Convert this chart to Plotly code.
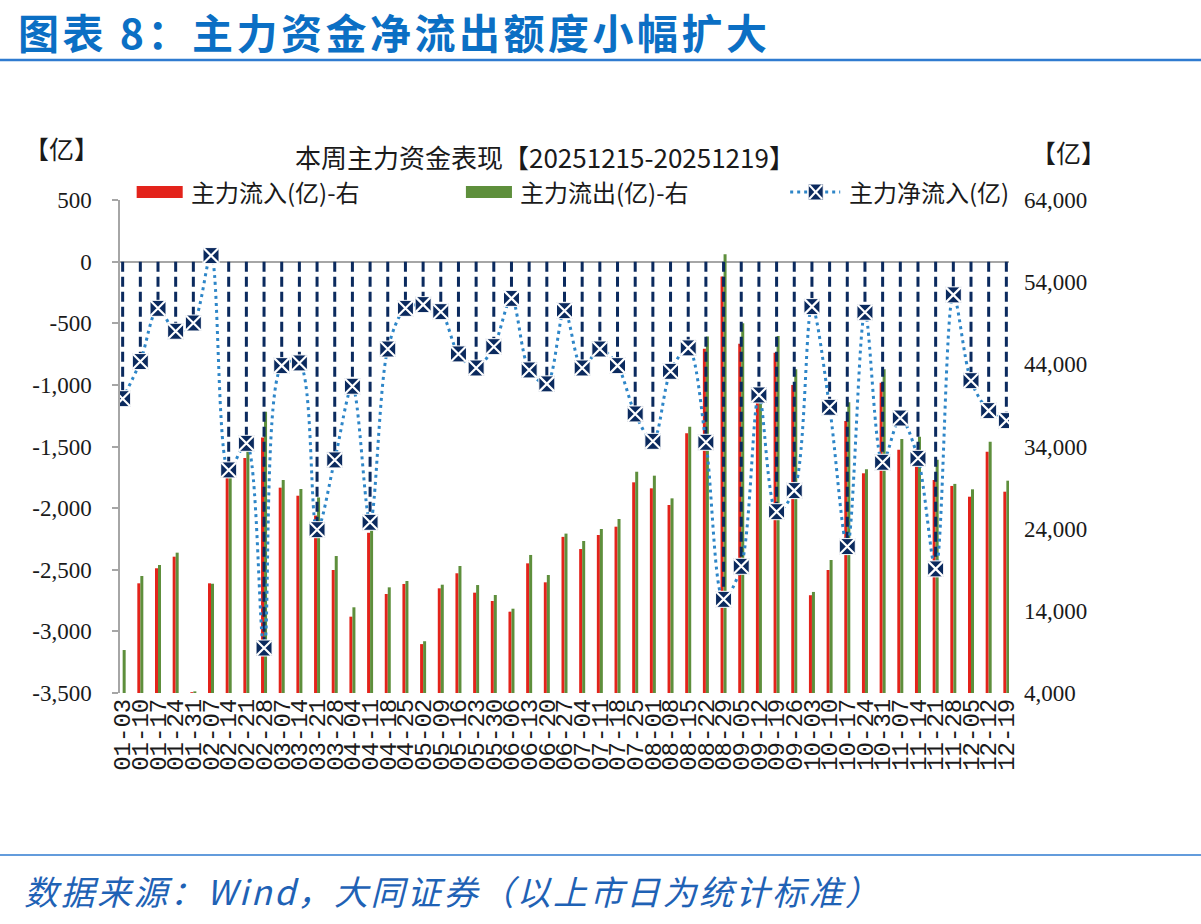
import plotly.graph_objects as go

# ---------------- data ----------------
weeks = ["01-03","01-10","01-17","01-24","01-31","02-07","02-14","02-21","02-28",
         "03-07","03-14","03-21","03-28","04-04","04-11","04-18","04-25",
         "05-02","05-09","05-16","05-23","05-30","06-06","06-13","06-20","06-27",
         "07-04","07-11","07-18","07-25","08-01","08-08","08-15","08-22","08-29",
         "09-05","09-12","09-19","09-26","10-03","10-10","10-17","10-24","10-31",
         "11-07","11-14","11-21","11-28","12-05","12-12","12-19"]

# 主力净流入(亿) - left axis
net_flow = [-1112, -811, -379, -565, -498, 49, -1690, -1474, -3135, -844, -822,
            -2175, -1609, -1011, -2115, -709, -379, -349, -406, -749, -863, -690,
            -298, -879, -992, -398, -863, -709, -844, -1236, -1458, -890, -700,
            -1466, -2740, -2472, -1082, -2029, -1858, -365, -1182, -2312, -411,
            -1628, -1269, -1596, -2493, -270, -966, -1209, -1290]

# 主力流入(亿) - right axis
inflow = [4000, 17350, 19180, 20590, 4100, 17350, 30300, 32600, 35100, 28990,
          28010, 25600, 18970, 13290, 23500, 16050, 17270, 9950, 16740, 18570,
          16210, 15200, 13900, 19780, 17470, 23000, 21520, 23230, 24240, 29640,
          28910, 26880, 35600, 45900, 54700, 46500, 39600, 45400, 41480, 15900,
          18970, 37100, 30740, 41770, 33600, 33600, 29920, 29200, 27890, 33370,
          28500]

# 主力流出(亿) - right axis
outflow = [9230, 18240, 19580, 21080, 4200, 17300, 31000, 34100, 38230, 29920,
           28830, 27800, 20670, 14430, 25600, 16860, 17630, 10300, 17180, 19460,
           17140, 15930, 14260, 20800, 18360, 23400, 22500, 23960, 25180, 30930,
           30450, 27690, 36410, 47400, 57400, 49000, 40700, 47450, 43400, 16300,
           20190, 39400, 31220, 43390, 34900, 35200, 32400, 29450, 28790, 34590,
           29840]

left_ticks = [500, 0, -500, -1000, -1500, -2000, -2500, -3000, -3500]
left_labels = ["500", "0", "-500", "-1,000", "-1,500", "-2,000", "-2,500", "-3,000", "-3,500"]
right_ticks = [64000, 54000, 44000, 34000, 24000, 14000, 4000]
right_labels = ["64,000", "54,000", "44,000", "34,000", "24,000", "14,000", "4,000"]

# ---------------- style ----------------
W, H = 1201, 924
ML, MR, MT, MB = 120.35, 192.35, 200, 231
PW = W - ML - MR
PH = H - MT - MB

RED = "#E3231B"
GREEN = "#5E8F3C"
NAVY = "#0B2A5E"
DOT_BLUE = "#2E86C8"
HEAD_BLUE = "#0B6FC4"
CJK = "Noto Sans CJK SC"
SERIF = "Liberation Serif, Noto Sans CJK SC"


def px_x(px):
    return (px - ML) / PW


def px_y(py):
    return (H - MB - py) / PH


def spaced(t, sp):
    return '<span style="letter-spacing:%spx">%s</span>' % (sp, t)


fig = go.Figure()

fig.add_trace(go.Bar(x=weeks, y=inflow, name="主力流入(亿)-右", marker_color=RED,
                     marker_line_width=0, yaxis="y", showlegend=False))
fig.add_trace(go.Bar(x=weeks, y=outflow, name="主力流出(亿)-右", marker_color=GREEN,
                     marker_line_width=0, yaxis="y", showlegend=False))

# dashed drop lines from 0 to each net-flow value
drop_x, drop_y = [], []
for w, v in zip(weeks, net_flow):
    drop_x += [w, w, None]
    drop_y += [0, v, None]
fig.add_trace(go.Scatter(x=drop_x, y=drop_y, mode="lines", yaxis="y2",
                         line=dict(color=NAVY, width=3, dash="10px,5px"),
                         hoverinfo="skip", showlegend=False))

fig.add_trace(go.Scatter(x=weeks, y=net_flow, mode="lines", yaxis="y2",
                         name="主力净流入(亿)",
                         line=dict(color=DOT_BLUE, width=3, dash="3px,4px",
                                   shape="spline", smoothing=0.9),
                         showlegend=False))
fig.add_trace(go.Scatter(x=weeks, y=net_flow, mode="markers", yaxis="y2",
                         marker=dict(symbol="square", size=16, color=NAVY,
                                     line=dict(color="white", width=1)),
                         showlegend=False, hoverinfo="skip"))
fig.add_trace(go.Scatter(x=weeks, y=net_flow, mode="markers", yaxis="y2",
                         marker=dict(symbol="x-thin", size=15, color="white",
                                     line=dict(color="white", width=2.2)),
                         showlegend=False, hoverinfo="skip"))

fig.update_layout(
    width=W, height=H,
    margin=dict(l=ML, r=MR, t=MT, b=MB, pad=0),
    paper_bgcolor="white", plot_bgcolor="white",
    barmode="group", bargap=0.66, bargroupgap=0,
    font=dict(family=CJK, color="#1a1a1a"),
    xaxis=dict(type="category", range=[-0.15, 50.15], tickangle=-90,
               tickmode="array", tickvals=weeks, ticktext=weeks,
               tickfont=dict(family="Liberation Mono", size=24, color="#1a1a1a"),
               showline=False, ticks="", showgrid=False, zeroline=False),
    yaxis=dict(side="right", range=[4000, 64000], tickvals=right_ticks,
               ticktext=right_labels, showgrid=False, zeroline=False,
               showline=False, ticks="",
               tickfont=dict(family=SERIF, size=23, color="#1a1a1a"),
               ticklabelstandoff=14),
    yaxis2=dict(side="left", overlaying="y", range=[-3500, 500],
                tickvals=left_ticks, ticktext=left_labels, showgrid=False,
                zeroline=True, zerolinecolor="#A6A6A6", zerolinewidth=1.5,
                showline=True, linecolor="#A6A6A6", linewidth=1.5,
                ticks="outside", ticklen=6, tickcolor="#A6A6A6", tickwidth=1.5,
                tickfont=dict(family=SERIF, size=23, color="#1a1a1a"),
                ticklabelstandoff=16),
)

ann = []
shapes = []

# header
ann.append(dict(text="<b>" + spaced("图表 8：主力资金净流出额度小幅扩大", 3.5) + "</b>",
                x=px_x(16), y=px_y(31), xanchor="left", yanchor="middle",
                font=dict(family=CJK, size=41, color=HEAD_BLUE)))
shapes.append(dict(type="line", xref="paper", yref="paper", x0=px_x(0), x1=px_x(W),
                   y0=px_y(60), y1=px_y(60), line=dict(color="#2F7BD0", width=2.5)))
# footer
shapes.append(dict(type="line", xref="paper", yref="paper", x0=px_x(0), x1=px_x(W),
                   y0=px_y(855), y1=px_y(855), line=dict(color="#2F7BD0", width=1.5)))
ann.append(dict(text=spaced("数据来源：Wind，大同证券（以上市日为统计标准）", 2.5),
                x=px_x(22), y=px_y(890), xanchor="left", yanchor="middle",
                font=dict(family=CJK, size=34, color="#1F62B5", style="italic")))

# chart title and units
ann.append(dict(text="本周主力资金表现【20251215-20251219】", x=px_x(545), y=px_y(156),
                xanchor="center", yanchor="middle",
                font=dict(family=CJK, size=26, color="#1a1a1a")))
ann.append(dict(text="【亿】", x=px_x(62), y=px_y(148), xanchor="center", yanchor="middle",
                font=dict(family=CJK, size=25, color="#1a1a1a")))
ann.append(dict(text="【亿】", x=px_x(1068), y=px_y(152), xanchor="center", yanchor="middle",
                font=dict(family=CJK, size=25, color="#1a1a1a")))

# manual legend
LY = 192
shapes.append(dict(type="rect", xref="paper", yref="paper", x0=px_x(137), x1=px_x(183),
                   y0=px_y(198), y1=px_y(186), fillcolor=RED, line=dict(width=0)))
ann.append(dict(text="主力流入(亿)-右", x=px_x(189), y=px_y(LY), xanchor="left",
                yanchor="middle", font=dict(family=CJK, size=24, color="#1a1a1a")))
shapes.append(dict(type="rect", xref="paper", yref="paper", x0=px_x(466), x1=px_x(512),
                   y0=px_y(198), y1=px_y(186), fillcolor=GREEN, line=dict(width=0)))
ann.append(dict(text="主力流出(亿)-右", x=px_x(518), y=px_y(LY), xanchor="left",
                yanchor="middle", font=dict(family=CJK, size=24, color="#1a1a1a")))
shapes.append(dict(type="line", xref="paper", yref="paper", x0=px_x(790), x1=px_x(840),
                   y0=px_y(LY), y1=px_y(LY),
                   line=dict(color=DOT_BLUE, width=3, dash="3px,4px")))
shapes.append(dict(type="rect", xref="paper", yref="paper", x0=px_x(808), x1=px_x(823),
                   y0=px_y(200), y1=px_y(184), fillcolor=NAVY, line=dict(color="white", width=1)))
shapes.append(dict(type="line", xref="paper", yref="paper", x0=px_x(809), x1=px_x(822),
                   y0=px_y(199), y1=px_y(185), line=dict(color="white", width=2)))
shapes.append(dict(type="line", xref="paper", yref="paper", x0=px_x(809), x1=px_x(822),
                   y0=px_y(185), y1=px_y(199), line=dict(color="white", width=2)))
ann.append(dict(text="主力净流入(亿)", x=px_x(847), y=px_y(LY), xanchor="left",
                yanchor="middle", font=dict(family=CJK, size=24, color="#1a1a1a")))

for a in ann:
    a.setdefault("xref", "paper")
    a.setdefault("yref", "paper")
    a.setdefault("showarrow", False)

fig.update_layout(annotations=ann, shapes=shapes)

fig.write_html("out.html")
